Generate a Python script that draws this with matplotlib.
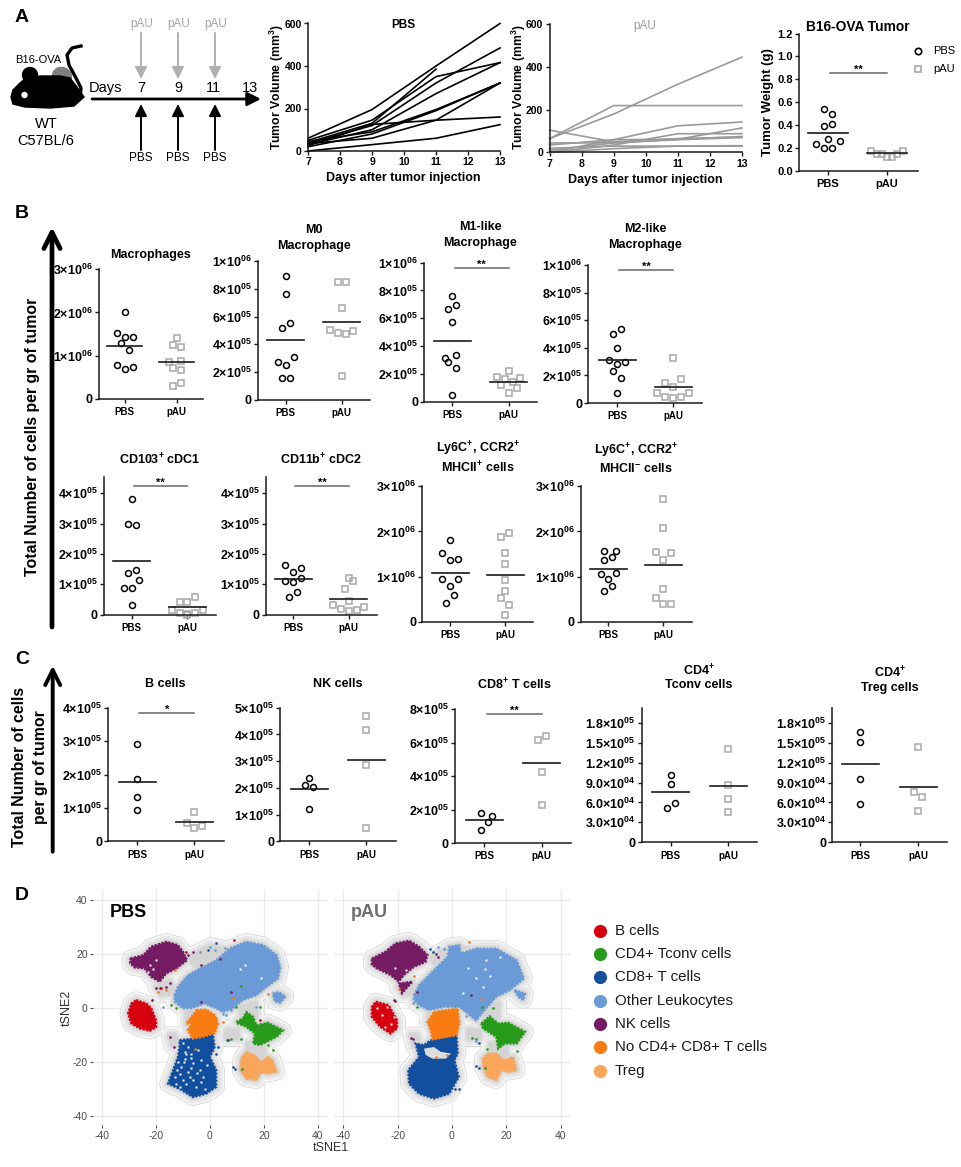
import matplotlib
matplotlib.use('Agg')
import matplotlib.pyplot as plt
from matplotlib.patches import Circle, Ellipse, Polygon

W, H = 961, 1167
plt.rcParams['font.family'] = ['Liberation Sans', 'DejaVu Sans']
plt.rcParams['mathtext.default'] = 'regular'
plt.rcParams['axes.unicode_minus'] = False

# Panel A: tumor growth curves
days = [7, 9, 11, 13]
pbs_curves = [
    [60, 195, 400, 600], [40, 130, 385, None], [50, 145, 350, 416], [35, 120, 320, 485],
    [30, 100, 270, 416], [45, 90, 195, 320], [25, 125, 145, 160], [35, 60, 145, 320],
    [0, 30, 60, 124], [20, 80, 190, 320],
]
pau_curves = [
    [65, 180, 320, 447], [65, 220, 220, 220], [105, 50, 65, 72], [0, 60, 125, 143],
    [0, 35, 88, 88], [45, 45, 62, 115], [35, 60, 62, 75], [20, 30, 30, 30],
    [10, 45, 60, 70], [0, 18, 30, 32],
]

groups = ['PBS', 'pAU']

# dot panels: values for each group, sideways dot offset (in dot widths) and mean
weight_pbs = [.538, .5, .39, .407, .279, .233, .259, .198, .198]
weight_pbs_off = [-1, 1, -1, 1, 0, -3, 3, -1, 1]
weight_pau = [.177, .177, .148, .148, .125, .125, .148]
weight_pau_off = [-4, 4, -2.5, -1.25, 0, 1.25, 2.5]
weight_means = [.334, .154]

macro_pbs = [2.0, 1.52, 1.42, 1.43, 1.29, 1.12, .78, .69, .74]
macro_pbs_off = [0, -2, 0, 2, -1, 1, -2, 0, 2]
macro_pau = [1.41, 1.25, 1.21, .86, .88, .72, .66, .29, .36]
macro_pau_off = [0, -1, 1, -2, 1, -1, 1, -1, 1]
macro_means = [1.23, .86]

m0_pbs = [.894, .765, .552, .518, .307, .249, .273, .161, .158]
m0_pbs_off = [0, 0, 1, -1, 2, 0, -2, -1, 1]
m0_pau = [.851, .851, .664, .501, .484, .477, .494, .175]
m0_pau_off = [-1, 1, 0, -3, -1, 1, 3, 0]
m0_means = [.434, .564]

m1_pbs = [.76, .667, .693, .571, .317, .285, .338, .245, .046]
m1_pbs_off = [0, -1, 1, 0, -2, -1, 1, 1, 0]
m1_pau = [.218, .177, .163, .173, .139, .118, .101, .062]
m1_pau_off = [0, -3, -1, 3, 1, -2, 2, 0]
m1_means = [.436, .144]

m2_pbs = [.54, .499, .402, .31, .298, .281, .232, .179, .073]
m2_pbs_off = [1, -1, 0, -2, 2, 0, -1, 1, 0]
m2_pau = [.324, .177, .145, .114, .075, .073, .041, .039, .041]
m2_pau_off = [0, 2, -2, 0, -4, 4, -2, 0, 2]
m2_means = [.315, .114]

cdc1_pbs = [3.81, 3.0, 2.945, 1.48, 1.385, 1.13, .88, .87, .32]
cdc1_pbs_off = [0, -1, 1, 1, -1, 2, -2, 0, 0]
cdc1_pau = [.57, .41, .41, .165, .165, .055, .02, .055, 0]
cdc1_pau_off = [2, -2, 0, -4, 4, -2, 0, 2, 0]
cdc1_means = [1.77, .24]

cdc2_pbs = [1.64, 1.55, 1.41, 1.2, 1.11, 1.07, .76, .57]
cdc2_pbs_off = [-2, 2, 0, 2, -2, 0, 1, -1]
cdc2_pau = [1.21, 1.12, .85, .46, .33, .26, .19, .13, .165]
cdc2_pau_off = [0, 1, -1, 0, -4, 4, -2, 0, 2]
cdc2_means = [1.165, .53]

mhc_pos_pbs = [1.8, 1.515, 1.375, 1.38, .94, .945, .8, .59, .41]
mhc_pos_pbs_off = [0, -2, 0, 2, -2, 2, 0, 1, -1]
mhc_pos_pau = [1.97, 1.885, 1.52, 1.285, .93, .69, .53, .38, .14]
mhc_pos_pau_off = [1, -1, 0, 0, 0, 0, -1, 1, 0]
mhc_pos_means = [1.09, 1.04]

mhc_neg_pbs = [1.57, 1.57, 1.43, 1.37, 1.06, 1.07, .94, .78, .67]
mhc_neg_pbs_off = [-1, 2, 1, -1, -2, 2, 0, 1, -1]
mhc_neg_pau = [2.71, 2.07, 1.54, 1.515, 1.36, .73, .53, .385, .39]
mhc_neg_pau_off = [0, 0, -2, 2, 0, 0, -2, 0, 2]
mhc_neg_means = [1.17, 1.26]

bcell_pbs = [2.92, 1.875, 1.34, .94]
bcell_pbs_off = [0, 0, 0, 0]
bcell_pau = [.89, .54, .47, .40]
bcell_pau_off = [0, -2, 2, 0]
bcell_means = [1.78, .58]

nk_pbs = [2.38, 2.12, 2.03, 1.21]
nk_pbs_off = [0, -1, 1, 0]
nk_pau = [4.69, 4.18, 2.84, .5]
nk_pau_off = [0, 0, 0, 0]
nk_means = [1.945, 3.05]

cd8_pbs = [1.79, 1.59, 1.23, .76]
cd8_pbs_off = [-1, 2, 1, -1]
cd8_pau = [6.41, 6.13, 4.22, 2.29]
cd8_pau_off = [1, -1, 0, 0]
cd8_means = [1.35, 4.78]

tconv_pbs = [1.008, .883, .592, .522]
tconv_pbs_off = [0, 0, 1, -1]
tconv_pau = [1.405, .863, .657, .462]
tconv_pau_off = [0, 0, 0, 0]
tconv_means = [.757, .848]

treg_pbs = [1.66, 1.515, .953, .572]
treg_pbs_off = [0, 0, 0, 0]
treg_pau = [1.43, .753, .687, .467]
treg_pau_off = [0, -1, 1, 0]
treg_means = [1.18, .838]

# Panel D: cluster outlines in tSNE units
cell_types = ['B cells', 'CD4+ Tconv cells', 'CD8+ T cells', 'Other Leukocytes', 'NK cells',
              'No CD4+ CD8+ T cells', 'Treg']
cell_colors = ['#d7000f', '#279a1c', '#124f9f', '#6a9bd6', '#741b63', '#f97b12', '#f9a55a']

pbs_red = [(-27.4, 3), (-23.6, 1.7), (-21.8, 0), (-20, -4.5), (-20, -7), (-22.4, -8.4), (-26.1, -7.5), (-29.2, -5.7), (-30.4, -2), (-29.2, 1.7)]
pbs_purple = [(-29.5, 18.4), (-24.7, 19.7), (-21.8, 22.8), (-16.2, 24.6), (-11.9, 23.4), (-10, 20.9), (-8.5, 17.8), (-12.5, 14.7), (-16.2, 12.9), (-18.7, 9.8), (-21.8, 11.6), (-24.3, 14.7), (-28, 15.1), (-29.6, 16.7)]
pbs_light = [(-13.1, 4.8), (-11.9, 7.9), (-8.2, 12.2), (-2.6, 15.3), (2.3, 17.8), (7.3, 22.1), (13.5, 24.6), (19.7, 23.4), (24.7, 19.7), (26.1, 15.3), (25.3, 11), (21, 7.9), (17.2, 4.8), (12.2, 3), (8.5, 0), (4.8, -1.4), (2.3, 0), (-2, 1.7), (-6.9, 0), (-10, 0), (-13.1, 2.4)]
pbs_light2 = [(23.3, 5.5), (25.6, 5.9), (28, 4.3), (26, 2), (24, 2.6)]
pbs_orange = [(-5, -.7), (-1.4, -.5), (1.7, -2.6), (3, -5.7), (1.7, -9.4), (-2.6, -10.6), (-6.3, -11.3), (-8.2, -8.2), (-6.9, -5.7), (-8.8, -5.7), (-6.9, -3.2)]
pbs_blue = [(-11.3, -11.9), (-6.3, -11.3), (1.1, -9.7), (1.7, -14.4), (0, -18.1), (2.3, -23), (2.3, -29.2), (-1.4, -31.7), (-6.3, -33), (-11.3, -29.9), (-15.6, -28), (-13.7, -23), (-11.9, -18.1), (-11.3, -14.4)]
pbs_green = [(9.8, -5.1), (12.2, -3.8), (13.5, -1.4), (16, -3.2), (17.2, -6.3), (21.5, -5.4), (27.1, -8.2), (24.7, -10.6), (21, -12.5), (18.5, -13.7), (16, -13.1), (16.7, -9.4), (13.5, -6.9), (10.4, -5.7)]
pbs_treg = [(13.5, -16.2), (16.6, -17.5), (19.1, -19.9), (21.5, -18.1), (23.3, -19.3), (24.7, -23.6), (21.5, -24.3), (19.1, -23.6), (17.2, -26.7), (13.5, -26.1), (11.3, -23), (11.6, -18.7)]

pau_red = [(-28, 2.4), (-23.3, 1.1), (-20.2, -4.5), (-20.2, -7.5), (-22.6, -9.4), (-26.4, -6.9), (-29.5, -3.2), (-29.5, .5)]
pau_purple = [(-29.5, 18.4), (-24.5, 20.9), (-20.8, 24), (-15.8, 25), (-12.1, 22.8), (-9, 19.7), (-9.7, 17.2), (-14, 15.3), (-17.7, 12.3), (-19.6, 9.8), (-22.6, 12.3), (-27.6, 14.7), (-29.5, 16.1)]
pau_purple2 = [(-19.6, 9.2), (-14.6, 9.8), (-18.4, 5.5)]
pau_light = [(-14, 4.8), (-12.1, 8.5), (-7.8, 12.9), (-1.6, 19.1), (-1, 22.8), (2.7, 23.4), (3.3, 20.3), (8.9, 22.1), (16.3, 22.1), (23.8, 17.8), (26.5, 11), (21.3, 6.7), (16.3, 4.2), (11.4, -1.4), (8.9, -4.5), (5.8, -2), (2.7, .5), (-2.9, .5), (-8.5, -.7), (-12.1, 1.1), (-14, 3)]
pau_light2 = [(23.1, 6.7), (26.9, 5.4), (26.3, 3), (24.4, 4.2)]
pau_orange = [(-6.6, -1.4), (2.1, -.1), (2.7, -5.7), (1.7, -10), (-7.2, -11.6), (-7.8, -8.2), (-9, -5.1)]
pau_blue = [(-7.8, -11.9), (1.7, -10), (2.1, -16.8), (.9, -19.3), (2.5, -25.5), (-1, -31.7), (-6.6, -33.5), (-12.1, -31.7), (-15.8, -28), (-16.1, -23), (-12.1, -18.1), (-13.4, -13.1), (-10.3, -13.7)]
pau_blue_gap = [(-10.3, -15), (-6.6, -14.4), (-4.1, -16.2), (-.4, -16.8), (-2.2, -18.7), (-7.2, -18.7), (-9.7, -17.3)]
pau_green = [(10.8, -5.7), (13.9, -3), (17, -5.7), (20.7, -5.4), (26.9, -8.8), (23.8, -13.1), (19.4, -13.1), (17, -15), (16.3, -10.6), (11.4, -7.5)]
pau_treg = [(13.2, -16.8), (16.3, -16.8), (19.4, -19.3), (22.5, -18.1), (23.8, -23), (20.7, -23.6), (18.2, -23), (16.3, -26.7), (13.2, -25.5), (11.4, -21.8), (11.4, -18.7)]

# low density parts of the contour that hold no big cluster
density_bridges = [
    [(-8, 19), (0, 23), (6, 22), (2, 17), (-5, 15)],
    [(-20, 8), (-15, 10), (-13, 6), (-18, 5)],
    [(14, -13), (20, -13), (20, -18), (14, -17)],
    [(11, 0), (17, 2), (17, -4), (12, -4)],
    [(-15, -10), (-14, -14), (-12, -14), (-13, -10)],
    [(6, -11), (10, -11), (10, -8), (6, -8)],
    [(-9, -1), (-7, -1), (-7, -6), (-9, -6)],
]

# stray cells and gaps inside the clusters
pbs_strays = {
    '#741b63': [(-8.2, 19.7), (-6.3, 20.9), (-3.2, 16), (3.6, 18.2), (-19.9, 7.3), (-18.7, 7.3), (-16.2, 7.9), (-15, 9.2), (-15, -10.6), (-13.4, -14.4), (-21.4, 3), (-3.2, 2.4), (7.9, 6.1)],
    '#f97b12': [(-19.3, 6.1), (-16.2, 6.7), (-13.1, 14.1), (-5.7, -15), (8.5, 3.6), (2.3, -3.8), (4.8, -5), (21.5, 5.4)],
    '#d7000f': [(8.8, 25.2), (-18.1, 7.3), (-8.8, 20.9), (18.4, -4.2)],
    '#279a1c': [(-12.5, .2), (-14.4, 1), (6.4, -11.9), (7.9, -11.3), (11.6, -11.6), (11.4, 8.4), (9.8, .5), (18.4, .5), (12, -22.4), (23.4, -15.6), (21.5, -13.7)],
    '#6a9bd6': [(-17.5, .5), (0, 22.8), (1.7, 21.5), (-3.8, 20.9), (5.4, 22.2), (7.9, -.7), (17.2, .5), (4.8, -2), (6.1, -2.6)],
    '#124f9f': [(8.5, -21.8), (9.2, -22.4), (2.4, 24), (3, -14.4), (2.4, -16.8), (6.7, -11.9), (-.7, 21.5)],
}
pbs_gaps = [(-9.4, -18.7), (-10.6, -21.8), (-8.2, -23.6), (-11.9, -19.9), (-13.1, -25.5), (-10, -26.7), (-6.3, -26.7), (-3.8, -23), (-8.8, -16.8), (-7.5, -25.5), (-5.1, -29.2), (-11.3, -29.2), (-12.5, -28), (-2.6, -25.5), (-6.3, -20.5), (-9.4, -16.2), (-6.9, -16.8), (-3.2, -19.3), (-4.5, -15.6), (-22.4, 16), (-21.2, 14.7), (11, 14.7), (12.9, 16), (19, 11), (-11, -24.5), (-8.8, -28), (-7, -22.2), (-5, -24), (-3.5, -27.5), (-9.8, -19.9), (-8, -14.5), (-12.2, -23), (-7.2, -18.5), (-10, -12.8), (-1, -21), (-2, -30), (-20, 18), (-23, 13.5)]
pau_strays = {
    '#741b63': [(-6, 20), (-5, 19), (-13, 6), (-21.5, 3), (-21, 2.5), (7, 5), (-15, -11), (-14.5, -11.5)],
    '#f97b12': [(6.3, 24.5), (-19.5, 7), (-14, 12), (10.5, 3.5), (-6, -18), (-2, -17.5)],
    '#279a1c': [(-13, .5), (7.5, -11), (9, -11.5), (11, .5), (15, 0), (12, -22), (13, -15), (24, -16)],
    '#6a9bd6': [(-3, 22), (-5, 22.5), (-14.5, 2), (9, -12), (14, 3), (5, -3)],
    '#124f9f': [(10, -22), (9, -21.5), (2.5, -30), (1, -30), (-8, 22), (-7, 21), (10, -13)],
}
pau_gaps = [(-27.6, -.1), (-23.9, .5), (-25.7, -2.6), (-22.6, -5.7), (-24.5, -6.9), (-21.4, -3.2), (12, 14.7), (12.6, 17.8), (17.5, 19), (4, 5.5), (9, 11), (-17, 14), (-21, 14.8), (11.5, 8), (6, 15), (14, 12)]


fig = plt.figure(figsize=(W / 100, H / 100), dpi=100)
page = fig.add_axes([0, 0, 1, 1], zorder=5)
page.set_xlim(0, W)
page.set_ylim(H, 0)
page.axis('off')
page.patch.set_alpha(0)


def put(x, y, s, size=9, weight='bold', color='black', ha='center', rotation=0):
    page.text(x, y, s, fontsize=size, fontweight=weight, color=color, ha=ha, va='center',
              rotation=rotation, rotation_mode='anchor' if rotation else 'default')


def arrow(x0, y0, x1, y1, color='black', lw=1.8, head=8, style='-|>'):
    page.annotate('', xy=(x1, y1), xytext=(x0, y0),
                  arrowprops=dict(arrowstyle='%s,head_width=%g,head_length=%g' % (style, head * .45, head * .9),
                                  color=color, lw=lw, shrinkA=0, shrinkB=0, mutation_scale=1))


def make_axes(left, right, bottom, top):
    ax = fig.add_axes([left / W, 1 - bottom / H, (right - left) / W, (bottom - top) / H])
    for s in ['top', 'right']:
        ax.spines[s].set_visible(False)
    for s in ['left', 'bottom']:
        ax.spines[s].set_linewidth(1.1)
        ax.spines[s].set_color('#1a1a1a')
    ax.patch.set_alpha(0)
    ax.tick_params(length=3, width=1, pad=1.5, color='#1a1a1a')
    return ax


def sci(mant, exp):
    return '%s$\\times$10$^{%s}$' % (mant, exp)


def dot_panel(box, c0, c1, ymax, ticks, labels, pbs, pbs_off, pau, pau_off, means, scale,
              sig=None, star='**', tick_size=9, cat_size=7, hw=18.5, step=3.9):
    left, right, bottom, top = box
    ax = make_axes(left, right, bottom, top)
    sp = c1 - c0
    ax.set_xlim((left - c0) / sp, (right - c0) / sp)
    ax.set_ylim(0, ymax)
    ax.plot([o * step / sp for o in pbs_off], [v * scale for v in pbs], ls='none', marker='o', ms=4.3,
            mfc='none', mec='black', mew=1.1, clip_on=False)
    ax.plot([1 + o * step / sp for o in pau_off], [v * scale for v in pau], ls='none', marker='s', ms=4.1,
            mfc='none', mec='#a8a8a8', mew=1.1, clip_on=False)
    for i, m in enumerate(means):
        ax.plot([i - hw / sp, i + hw / sp], [m * scale, m * scale], color='#1a1a1a', lw=1.2)
    if sig is not None:
        ax.plot([.04, 1], [sig * scale, sig * scale], color='#666666', lw=1.1)
        ax.annotate(star, (.52, sig * scale), xytext=(0, -1.5), textcoords='offset points', ha='center',
                    va='bottom', fontsize=8, fontweight='bold')
    ax.set_xticks([0, 1])
    ax.set_xticklabels(groups, fontsize=cat_size, fontweight='bold')
    ax.set_yticks(ticks)
    ax.set_yticklabels(labels, fontsize=tick_size, fontweight='bold')
    ax.tick_params(axis='x', pad=3)
    return ax


# Panel A: schematic
put(22, 18, 'A', size=14)
put(22, 214, 'B', size=14)
put(22, 659, 'C', size=14)
put(22, 896, 'D', size=14)

tumor = Ellipse((62, 76), 19, 17, angle=20, color='#808080', zorder=2)
page.add_patch(tumor)
body = Polygon([(11, 97), (13, 90), (20, 83), (26, 78), (40, 76), (60, 76), (70, 78), (77, 87), (84, 97), (74, 106),
                (50, 108), (25, 107), (13, 104)], closed=True, color='black', zorder=3)
page.add_patch(body)
page.add_patch(Circle((30, 75), 7.5, color='black', zorder=3))
page.add_patch(Circle((24.5, 95), 2.5, color='white', zorder=4))
page.plot([80, 81, 76, 69, 67, 72, 81], [98, 88, 78, 65, 55, 48, 46], color='black', lw=2.4, zorder=3)
put(38, 60, 'B16-OVA', size=8, weight='normal')
put(46, 124, 'WT', size=10.5, weight='normal')
put(46, 141, 'C57BL/6', size=10.5, weight='normal')
put(89, 88, 'Days', size=10.5, weight='normal', ha='left')
for x, s in zip([141, 178, 213.5, 250], ['7', '9', '11', '13']):
    put(x, 88, s, size=10.5, weight='normal')
arrow(92, 99, 261, 99, lw=2, head=9)
for x in [141, 178, 215]:
    arrow(x, 150, x, 104, lw=1.4, head=8)
    put(x, 158, 'PBS', size=8.5, weight='normal')
    arrow(x, 33, x, 79, color='#b0b0b0', lw=1.4, head=8)
    put(x + .5, 24, 'pAU', size=8.5, weight='normal', color='#a6a6a6')

# Panel A: growth curves
for curves, color, box, tcolor, title, tw in [
        (pbs_curves, 'black', (308, 500, 151, 23.5), 'black', 'PBS', 'bold'),
        (pau_curves, '#9a9a9a', (549.5, 742, 152.5, 24.5), '#9a9a9a', 'pAU', 'normal')]:
    ax = make_axes(*box)
    for c in curves:
        d = [x for x, v in zip(days, c) if v is not None]
        v = [v for v in c if v is not None]
        ax.plot(d, v, color=color, lw=1.2, clip_on=False)
    ax.set_xlim(7, 13)
    ax.set_ylim(0, 600)
    ax.set_xticks([7, 8, 9, 10, 11, 12, 13])
    ax.set_yticks([0, 200, 400, 600])
    ax.tick_params(labelsize=7.5, pad=1.5)
    for lab in ax.get_xticklabels() + ax.get_yticklabels():
        lab.set_fontweight('bold')
    cx = (box[0] + box[1]) / 2 - 1
    put(cx, 25.5, title, size=8.5, weight=tw, color=tcolor)
    put(cx, box[2] + 27.5, 'Days after tumor injection', size=9)
    put(box[0] - 31, 87.5, 'Tumor Volume (mm$^{3}$)', size=8.8, rotation=90)

# Panel A: tumor weight
ax = dot_panel((799, 918, 171, 33.5), 828, 887, 1.2, [0, .2, .4, .6, .8, 1.0, 1.2],
               ['0.0', '0.2', '0.4', '0.6', '0.8', '1.0', '1.2'], weight_pbs, weight_pbs_off, weight_pau,
               weight_pau_off, weight_means, 1, sig=.857, tick_size=8, cat_size=8, hw=20)
put(858, 27, 'B16-OVA Tumor', size=9.9)
put(768, 102, 'Tumor Weight (g)', size=9.5, rotation=90)
page.plot([917.7], [50.7], ls='none', marker='o', ms=4.6, mfc='none', mec='black', mew=1.2)
page.plot([917.7], [69], ls='none', marker='s', ms=4.4, mfc='none', mec='#a8a8a8', mew=1.2)
put(933, 50.7, 'PBS', size=8, weight='normal', ha='left')
put(933, 69, 'pAU', size=8, weight='normal', ha='left')

# Panel B
arrow(52, 627, 52, 227, lw=3.4, head=13, style='->')
put(33, 437, 'Total Number of cells per gr of tumor', size=11.4, rotation=90)

ticks_3 = [0, 1, 2, 3]
labels_3 = ['0', sci('1', '06'), sci('2', '06'), sci('3', '06')]
ticks_m = [0, .2, .4, .6, .8, 1]
labels_m = ['0', sci('2', '05'), sci('4', '05'), sci('6', '05'), sci('8', '05'), sci('1', '06')]
ticks_4 = [0, 1, 2, 3, 4]
labels_4 = ['0', sci('1', '05'), sci('2', '05'), sci('3', '05'), sci('4', '05')]

dot_panel((98.7, 203, 398.7, 269.3), 124.7, 176.7, 3, ticks_3, labels_3, macro_pbs, macro_pbs_off, macro_pau,
          macro_pau_off, macro_means, 1, hw=17.5)
dot_panel((257.7, 370, 400, 261), 285.7, 341.7, 1, ticks_m, labels_m, m0_pbs, m0_pbs_off, m0_pau, m0_pau_off,
          m0_means, 1)
dot_panel((424.3, 536.7, 401.7, 262.7), 452.3, 508.7, 1, ticks_m, labels_m, m1_pbs, m1_pbs_off, m1_pau, m1_pau_off,
          m1_means, 1, sig=.964)
dot_panel((588.3, 702.3, 403, 265.3), 617, 673, 1, ticks_m, labels_m, m2_pbs, m2_pbs_off, m2_pau, m2_pau_off,
          m2_means, 1, sig=.964)
dot_panel((104, 215.7, 614.7, 477.3), 131.7, 187.3, 4.527, ticks_4, labels_4, cdc1_pbs, cdc1_pbs_off, cdc1_pau,
          cdc1_pau_off, cdc1_means, 1, sig=4.25)
dot_panel((265.7, 377.3, 614.7, 477.3), 293, 348.7, 4.527, ticks_4, labels_4, cdc2_pbs, cdc2_pbs_off, cdc2_pau,
          cdc2_pau_off, cdc2_means, 1, sig=4.25)
dot_panel((422.3, 533.3, 621.7, 486.3), 450, 505, 3, ticks_3, labels_3, mhc_pos_pbs, mhc_pos_pbs_off, mhc_pos_pau,
          mhc_pos_pau_off, mhc_pos_means, 1)
dot_panel((581, 691.7, 621.7, 486.3), 608.3, 663.3, 3, ticks_3, labels_3, mhc_neg_pbs, mhc_neg_pbs_off, mhc_neg_pau,
          mhc_neg_pau_off, mhc_neg_means, 1)

put(150.7, 255, 'Macrophages')
put(313.7, 229.7, 'M0')
put(313.7, 245.7, 'Macrophage')
put(480.3, 227.3, 'M1-like')
put(480.3, 242.7, 'Macrophage')
put(645, 229.3, 'M2-like')
put(645, 244.7, 'Macrophage')
put(159.3, 460, 'CD103$^{+}$ cDC1')
put(320.7, 460, 'CD11b$^{+}$ cDC2')
put(477.7, 449, 'Ly6C$^{+}$, CCR2$^{+}$')
put(477.7, 468, 'MHCII$^{+}$ cells')
put(636, 451, 'Ly6C$^{+}$, CCR2$^{+}$')
put(636, 469, 'MHCII$^{-}$ cells')

# Panel C
arrow(52.7, 851.7, 52.7, 665.7, lw=2.8, head=12, style='->')
put(20, 767, 'Total Number of cells', size=11.4, rotation=90)
put(40, 767, 'per gr of tumor', size=11.4, rotation=90)

ticks_5 = [0, 1, 2, 3, 4, 5]
labels_5 = ['0', sci('1', '05'), sci('2', '05'), sci('3', '05'), sci('4', '05'), sci('5', '05')]
ticks_8 = [0, 2, 4, 6, 8]
labels_8 = ['0', sci('2', '05'), sci('4', '05'), sci('6', '05'), sci('8', '05')]
ticks_18 = [0, .3, .6, .9, 1.2, 1.5, 1.8]
labels_18 = ['0', sci('3.0', '04'), sci('6.0', '04'), sci('9.0', '04'), sci('1.2', '05'), sci('1.5', '05'), sci('1.8', '05')]

dot_panel((108.3, 224, 841.3, 707.7), 137, 194.3, 4, ticks_4, labels_4, bcell_pbs, bcell_pbs_off, bcell_pau,
          bcell_pau_off, bcell_means, 1, sig=3.85, star='*')
dot_panel((280.3, 396, 841.3, 707.7), 309, 366.3, 5, ticks_5, labels_5, nk_pbs, nk_pbs_off, nk_pau, nk_pau_off,
          nk_means, 1)
dot_panel((455, 571, 843, 709), 484.4, 541.7, 8, ticks_8, labels_8, cd8_pbs, cd8_pbs_off, cd8_pau, cd8_pau_off,
          cd8_means, 1, sig=7.7)
dot_panel((641.7, 757.3, 842.3, 708.3), 670.7, 728, 2.017, ticks_18, labels_18, tconv_pbs, tconv_pbs_off, tconv_pau,
          tconv_pau_off, tconv_means, 1)
dot_panel((832.3, 946.7, 842.3, 708.3), 860.3, 918, 2.017, ticks_18, labels_18, treg_pbs, treg_pbs_off, treg_pau,
          treg_pau_off, treg_means, 1)

put(165.7, 684.3, 'B cells')
put(337.3, 684.3, 'NK cells')
put(514, 685, 'CD8$^{+}$ T cells')
put(699, 670.5, 'CD4$^{+}$')
put(699, 685, 'Tconv cells')
put(889.7, 672.5, 'CD4$^{+}$')
put(889.7, 687.7, 'Treg cells')


# Panel D
def tsne_panel(left, right, clusters, strays, gaps, gap_poly, title, tcolor, show_y):
    ax = fig.add_axes([left / W, 1 - 1125 / H, (right - left) / W, (1125 - 890) / H])
    ax.set_xlim(-43.3, 43.8)
    ax.set_ylim(-43.3, 43.8)
    for s in ax.spines.values():
        s.set_visible(False)
    ax.set_xticks([-40, -20, 0, 20, 40])
    ax.set_yticks([-40, -20, 0, 20, 40])
    ax.grid(True, color='#ebebeb', lw=1)
    ax.set_axisbelow(True)
    ax.tick_params(length=2.5, width=.8, color='#4d4d4d', labelcolor='#4d4d4d', labelsize=7.5, pad=1.5, left=show_y,
                   labelleft=show_y)
    # density contours: stacked strokes around the clusters
    shapes = [poly for poly, _ in clusters] + density_bridges
    shells = [(12.5, '#d4d4d4'), (11.5, '#f6f6f6'), (9, '#e8e8e8'), (5, '#dcdcdc'), (2.5, '#d4d4d4')]
    for lw, col in shells:
        for poly in shapes:
            ax.add_patch(Polygon(poly, closed=True, fc=col, ec=col, lw=lw, joinstyle='round', zorder=2))
    # slightly broken edge so the clusters look like piled up cells, not flat shapes
    for poly, col in clusters:
        ax.add_patch(Polygon(poly, closed=True, fc=col, ec=col, lw=1.6, ls=(0, (1, .6)), zorder=3))
    if gap_poly is not None:
        ax.add_patch(Polygon(gap_poly, closed=True, fc='#dddddd', ec='none', zorder=4))
    ax.plot(*zip(*gaps), ls='none', marker='s', ms=1.7, mfc='white', mec='none', zorder=4)
    for col, pts in strays.items():
        ax.plot(*zip(*pts), ls='none', marker='o', ms=1.9, mfc=col, mec='none', zorder=5)
    ax.text(.071, .905, title, transform=ax.transAxes, fontsize=13, fontweight='bold', color=tcolor, va='center',
            zorder=6)
    return ax


tsne_panel(93.3, 328,
           [(pbs_red, cell_colors[0]), (pbs_green, cell_colors[1]), (pbs_blue, cell_colors[2]), (pbs_light, cell_colors[3]),
            (pbs_light2, cell_colors[3]), (pbs_purple, cell_colors[4]), (pbs_orange, cell_colors[5]), (pbs_treg, cell_colors[6])],
           pbs_strays, pbs_gaps, None, 'PBS', 'black', True)
tsne_panel(334.3, 571,
           [(pau_red, cell_colors[0]), (pau_green, cell_colors[1]), (pau_blue, cell_colors[2]), (pau_light, cell_colors[3]),
            (pau_light2, cell_colors[3]), (pau_purple, cell_colors[4]), (pau_purple2, cell_colors[4]), (pau_orange, cell_colors[5]),
            (pau_treg, cell_colors[6])],
           pau_strays, pau_gaps, pau_blue_gap, 'pAU', '#6e6e6e', False)
put(331, 1148, 'tSNE1', size=9, weight='normal', color='#333333')
put(67, 1008, 'tSNE2', size=9, weight='normal', color='#333333', rotation=90)

for i, (name, col) in enumerate(zip(cell_types, cell_colors)):
    y = 930.7 + i * 23.3
    page.plot([600], [y], ls='none', marker='o', ms=9.5, mfc=col, mec='none')
    put(615, y, name, size=10.8, weight='normal', color='#1a1a1a', ha='left')

fig.savefig('out.png', dpi=100)
